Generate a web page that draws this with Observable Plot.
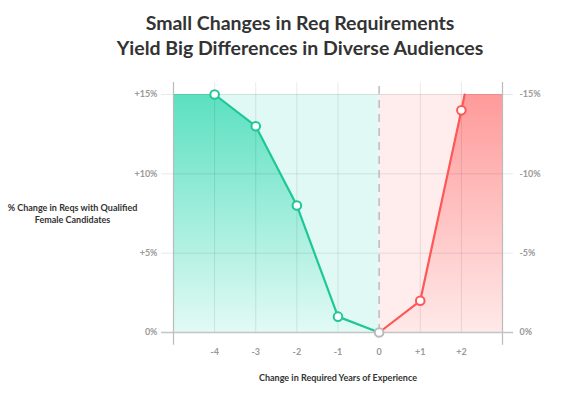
<!DOCTYPE html>
<html>
<head>
<meta charset="utf-8">
<script src="https://cdn.jsdelivr.net/npm/d3@7"></script>
<script src="https://cdn.jsdelivr.net/npm/@observablehq/plot@0.6"></script>
<style>
  html, body { margin: 0; padding: 0; background: #fff; }
  body { width: 588px; height: 394px; overflow: hidden; font-family: Lato, "Open Sans", sans-serif; }
  #title { height: 70px; text-align: center; padding-left: 12px; box-sizing: border-box; padding-top: 10px;
           font: 700 19.5px/25px Lato, sans-serif; color: #333; }
  #chart svg { display: block; }
</style>
</head>
<body>
<div id="title">Small Changes in Req Requirements<br>Yield Big Differences in Diverse Audiences</div>
<div id="chart"></div>
<script>
// ---- data ----
const xTicks = [-4, -3, -2, -1, 0, 1, 2];
const xTickLabels = ["-4", "-3", "-2", "-1", "0", "+1", "+2"];
const yTicks = [0, 5, 10, 15];
const yLeftLabels = ["0%", "+5%", "+10%", "+15%"];
const yRightLabels = ["0%", "-5%", "-10%", "-15%"];

// green series: decreasing required years
const greenYears = [-4, -3, -2, -1];
const greenValues = [15, 13, 8, 1];
// red series: increasing required years
const redYears = [1, 2];
const redValues = [2, 14];
// shared origin
const originYear = [0];
const originValue = [0];
// range of the chart
const xMin = -5, xMax = 3, yMax = 15;
// red line runs on until it meets the top at about +2.08 years
const redEndYear = 2.08;

const xLabel = "Change in Required Years of Experience";
const yLabel = ["% Change in Reqs with Qualified", "Female Candidates"];

// ---- derived tables ----
const green = greenYears.map((x, i) => ({x, y: greenValues[i]}));
const red = redYears.map((x, i) => ({x, y: redValues[i]}));
const origin = originYear.map((x, i) => ({x, y: originValue[i]}));
const greenLine = [...green, ...origin];
const redLine = [...origin, ...red, {x: redEndYear, y: yMax}];
const greenArea = [{x: xMin, y: yMax}, ...greenLine];
const redArea = [...redLine, {x: xMax, y: yMax}];
const gridTop = yMax + 0.75;
const frameBottom = -0.8;

const lblStyle = {fill: "#999", fontSize: 9, fontWeight: 700, fontFamily: "Lato, sans-serif"};
const titleStyle = {fill: "#333", fontSize: 9, fontWeight: 700, fontFamily: "Lato, sans-serif"};

const plot = Plot.plot({
  width: 588,
  height: 324,
  marginLeft: 173,
  marginRight: 86,
  marginTop: 24,
  marginBottom: 62,
  x: {domain: [xMin, xMax], axis: null},
  y: {domain: [0, yMax], axis: null},
  marks: [
    // light backgrounds
    Plot.rect([{x1: xMin, x2: 0}], {x1: "x1", x2: "x2", y1: 0, y2: yMax, fill: "#e0f9f5"}),
    Plot.rect([{x1: 0, x2: xMax}], {x1: "x1", x2: "x2", y1: 0, y2: yMax, fill: "#ffecec"}),
    // gradient areas
    Plot.areaY(greenArea, {x: "x", y1: 0, y2: "y", fill: "url(#gGrad)"}),
    Plot.areaY(redArea, {x: "x", y1: 0, y2: "y", fill: "url(#rGrad)"}),
    // horizontal grid + ticks
    Plot.ruleY(yTicks.filter(d => d > 0), {y: d => d, x1: xMin - 0.29, x2: xMax + 0.27, stroke: "#000", strokeOpacity: 0.09}),
    // vertical grid
    Plot.ruleX(xTicks.filter(d => d !== 0), {x: d => d, y1: 0, y2: gridTop, stroke: "#000", strokeOpacity: 0.09}),
    Plot.ruleX([0], {x: d => d, y1: 0, y2: gridTop, stroke: "#bbb", strokeWidth: 1.5, strokeDasharray: "8,6"}),
    // frame lines
    Plot.ruleX([xMin, xMax], {x: d => d, y1: frameBottom, y2: gridTop, stroke: "#bbb", strokeWidth: 1.2}),
    Plot.ruleY([0], {y: d => d, x1: xMin - 0.29, x2: xMax + 0.27, stroke: "#c4c4c4", strokeWidth: 1.6}),
    // tick labels
    Plot.text(yTicks, {x: xMin, y: d => d, text: (d, i) => yLeftLabels[i], textAnchor: "end", dx: -16, ...lblStyle}),
    Plot.text(yTicks, {x: xMax, y: d => d, text: (d, i) => yRightLabels[i], textAnchor: "start", dx: 17, ...lblStyle}),
    Plot.text(xTicks, {x: d => d, y: 0, text: (d, i) => xTickLabels[i], dy: 20, ...lblStyle}),
    // shadows
    Plot.line(greenLine, {x: "x", y: "y", stroke: "#000", strokeOpacity: 0.35, strokeWidth: 3, dx: 2, dy: 2, ariaLabel: "shadow"}),
    Plot.line(redLine, {x: "x", y: "y", stroke: "#000", strokeOpacity: 0.35, strokeWidth: 3, dx: 2, dy: 2, ariaLabel: "shadow"}),
    // lines
    Plot.line(greenLine, {x: "x", y: "y", stroke: "#1ec896", strokeWidth: 2.2}),
    Plot.line(redLine, {x: "x", y: "y", stroke: "#ff5656", strokeWidth: 2.2}),
    // points
    Plot.dot(green, {x: "x", y: "y", r: 4.3, fill: "#fff", stroke: "#1ec896", strokeWidth: 2}),
    Plot.dot(red, {x: "x", y: "y", r: 4.3, fill: "#fff", stroke: "#ff5656", strokeWidth: 2}),
    Plot.dot(origin, {x: "x", y: "y", r: 4.3, fill: "#fff", stroke: "#bbb", strokeWidth: 2}),
    // axis titles
    Plot.text([xLabel], {frameAnchor: "bottom", dy: 48, text: d => d, ...titleStyle}),
    Plot.text([yLabel.join("\n")], {frameAnchor: "left", dx: -101, text: d => d, textAnchor: "middle", lineHeight: 1.3, ...titleStyle})
  ]
});

// gradients + shadow filter
const ns = "http://www.w3.org/2000/svg";
const defs = document.createElementNS(ns, "defs");
defs.innerHTML = `
  <linearGradient id="gGrad" x1="0" y1="0" x2="0" y2="1">
    <stop offset="0" stop-color="#5be0c0"/>
    <stop offset="1" stop-color="#e2faf5"/>
  </linearGradient>
  <linearGradient id="rGrad" x1="0" y1="0" x2="0" y2="1">
    <stop offset="0" stop-color="#ff9a9a"/>
    <stop offset="1" stop-color="#ffe9e9"/>
  </linearGradient>
  <filter id="blur" x="-10%" y="-10%" width="120%" height="120%">
    <feGaussianBlur stdDeviation="1.6"/>
  </filter>`;
plot.insertBefore(defs, plot.firstChild);
plot.querySelectorAll('g[aria-label="shadow"]').forEach(g => g.setAttribute("filter", "url(#blur)"));

document.getElementById("chart").appendChild(plot);
</script>
</body>
</html>
